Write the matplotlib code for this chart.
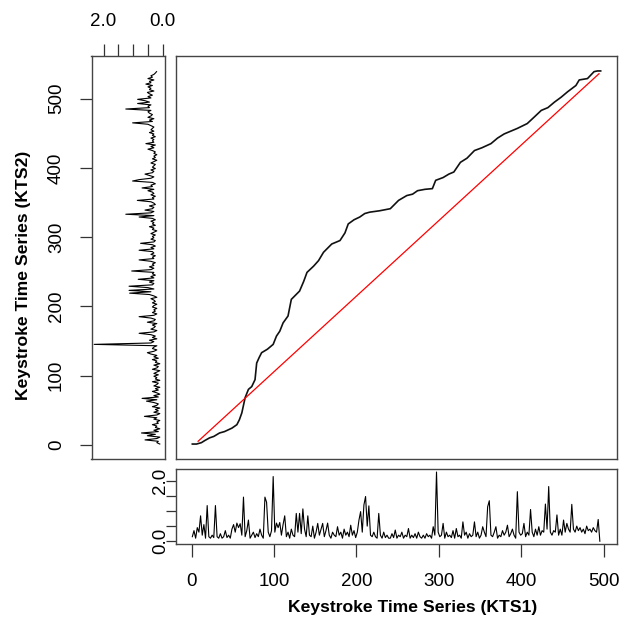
import matplotlib
matplotlib.use('Agg')
import matplotlib.pyplot as plt
import numpy as np

plt.rcParams['font.family'] = ['Liberation Sans', 'DejaVu Sans']

# KTS1 (query), sampled every 2nd keystroke: 1, 3, ..., 495
kts1 = [
    0.15, 0.35, 0.1, 0.45, 0.3, 0.84, 0.2, 0.55, 0.1, 1.18,
    0.15, 0.1, 0.2, 0.12, 1.18, 0.15, 0.1, 0.25, 0.1, 0.15,
    0.35, 0.12, 0.2, 0.1, 0.4, 0.55, 0.3, 0.6, 0.45, 0.58,
    0.2, 1.46, 0.15, 0.35, 0.7, 0.1, 0.2, 0.3, 0.12, 0.25,
    0.15, 0.4, 0.2, 0.1, 1.46, 1.29, 0.3, 0.15, 0.35, 2.14,
    0.3, 0.6, 0.45, 0.62, 0.2, 0.55, 0.84, 0.15, 0.3, 0.1,
    0.4, 0.2, 0.15, 0.92, 0.3, 0.92, 0.25, 1.07, 0.4, 0.15,
    0.84, 0.2, 0.15, 0.5, 0.1, 0.3, 0.59, 0.2, 0.4, 0.59,
    0.15, 0.35, 0.6, 0.2, 0.1, 0.3, 0.2, 0.15, 0.48, 0.2,
    0.3, 0.1, 0.4, 0.2, 0.3, 0.15, 0.53, 0.2, 0.35, 0.12,
    0.3, 0.7, 0.98, 0.3, 1.2, 1.48, 0.5, 1.17, 0.2, 0.15,
    0.3, 0.15, 0.1, 0.92, 0.2, 0.1, 0.3, 0.12, 0.2, 0.1,
    0.1, 0.25, 0.12, 0.37, 0.1, 0.2, 0.15, 0.3, 0.1, 0.2,
    0.15, 0.42, 0.1, 0.2, 0.12, 0.25, 0.1, 0.3, 0.15, 0.1,
    0.2, 0.1, 0.25, 0.15, 0.2, 0.1, 0.48, 0.2, 2.29, 0.3,
    0.15, 0.2, 0.59, 0.1, 0.3, 0.15, 0.2, 0.12, 0.35, 0.1,
    0.42, 0.15, 0.2, 0.1, 0.64, 0.2, 0.3, 0.1, 0.25, 0.15,
    0.2, 0.64, 0.15, 0.3, 0.1, 0.2, 0.48, 0.3, 0.15, 1.14,
    1.34, 0.2, 0.15, 0.3, 0.48, 0.1, 0.2, 0.15, 0.35, 0.2,
    0.3, 0.53, 0.15, 0.25, 0.4, 0.2, 0.1, 1.64, 0.3, 0.2,
    0.25, 0.59, 0.15, 0.3, 0.2, 1.05, 0.3, 0.15, 0.4, 0.2,
    0.48, 0.2, 0.35, 0.3, 1.23, 0.4, 1.81, 0.3, 0.2, 0.35,
    0.3, 0.87, 0.2, 0.4, 0.2, 0.7, 0.3, 0.59, 0.4, 0.3,
    1.22, 0.4, 0.3, 0.5, 0.35, 0.45, 0.3, 0.4, 0.25, 0.5,
    0.35, 0.4, 0.3, 0.45, 0.35, 0.3, 0.72, 0.0,
]

# KTS2 (reference), sampled every 2nd keystroke: 1, 3, ..., 539
kts2 = [
    0.1, 0.2, 0.15, 0.6, 0.2, 0.1, 0.52, 0.25, 0.72, 0.15,
    0.3, 0.1, 0.25, 0.2, 0.35, 0.15, 0.2, 0.1, 0.3, 0.2,
    0.62, 0.2, 0.1, 0.3, 0.15, 0.25, 0.1, 0.35, 0.2, 0.15,
    0.3, 0.55, 0.2, 0.7, 0.15, 0.3, 0.1, 0.2, 0.35, 0.15,
    0.25, 0.1, 0.3, 0.2, 0.15, 0.35, 0.1, 0.25, 0.2, 0.3,
    0.15, 0.3, 0.2, 0.1, 0.35, 0.2, 0.15, 0.3, 0.1, 0.25,
    0.2, 0.35, 0.15, 0.3, 0.2, 0.4, 0.52, 0.3, 0.2, 0.35,
    0.3, 0.2, 2.32, 0.4, 0.3, 0.45, 0.2, 0.35, 0.25, 0.4,
    0.8, 0.3, 0.2, 0.4, 0.3, 0.25, 0.35, 0.2, 0.52, 0.3,
    0.25, 0.4, 0.8, 0.3, 0.2, 0.35, 0.25, 0.3, 0.2, 0.35,
    0.3, 0.2, 0.35, 0.25, 0.3, 0.4, 0.2, 0.3, 0.45, 1.12,
    0.4, 1.14, 0.3, 0.5, 1.14, 0.35, 0.3, 0.45, 0.3, 0.83,
    0.3, 0.4, 0.25, 0.35, 0.3, 1.05, 0.4, 0.3, 0.45, 0.3,
    0.35, 0.25, 0.4, 0.8, 0.3, 0.35, 0.25, 0.4, 0.3, 0.35,
    0.8, 0.3, 0.4, 0.25, 0.35, 0.75, 0.3, 0.25, 0.4, 0.3,
    0.35, 0.25, 0.4, 0.3, 0.2, 0.35, 0.3, 0.45, 0.25, 0.35,
    0.3, 0.4, 0.25, 0.35, 0.8, 0.3, 1.25, 0.4, 0.3, 0.6,
    0.35, 0.3, 0.45, 0.25, 0.3, 0.4, 0.86, 0.3, 0.35, 0.25,
    0.4, 0.3, 0.35, 0.5, 0.3, 0.7, 0.35, 0.4, 0.25, 0.35,
    1.02, 0.8, 0.4, 0.3, 0.45, 0.6, 0.35, 0.3, 0.4, 0.25,
    0.35, 0.3, 0.25, 0.4, 0.3, 0.2, 0.35, 0.25, 0.3, 0.2,
    0.3, 0.25, 0.35, 0.5, 0.3, 0.4, 0.25, 0.57, 0.3, 0.35,
    0.3, 0.4, 0.25, 0.35, 0.3, 0.45, 0.3, 0.4, 0.35, 0.3,
    0.4, 0.5, 1.02, 0.35, 0.45, 0.3, 0.5, 0.4, 0.35, 0.45,
    0.5, 0.4, 1.25, 0.45, 0.5, 0.4, 0.85, 0.45, 0.6, 0.85,
    0.4, 0.5, 0.35, 0.45, 0.52, 0.3, 0.45, 0.4, 0.5, 0.35,
    0.57, 0.4, 0.45, 0.3, 0.5, 0.35, 0.4, 0.3, 0.25, 0.21,
]

# warping path (KTS1 index, KTS2 index)
path_i = [1, 6, 12, 16, 22, 27, 34, 40, 49, 55, 58, 61, 63, 65, 69, 73,
          77, 79, 82, 85, 92, 99, 103, 107, 111, 117, 121, 126, 131, 136,
          140, 148, 154, 160, 170, 180, 186, 190, 197, 204, 210, 216, 228,
          241, 246, 251, 261, 268, 274, 283, 292, 296, 305, 312, 318, 326,
          334, 343, 352, 363, 371, 379, 387, 395, 407, 416, 424, 432, 440,
          448, 456, 466, 470, 475, 480, 488, 492, 496]
path_j = [1, 1, 3, 6, 10, 12, 17, 19, 24, 29, 36, 46, 57, 68, 80, 84,
          94, 118, 126, 133, 138, 145, 157, 164, 176, 186, 210, 216, 222,
          236, 249, 258, 266, 278, 290, 295, 306, 319, 325, 329, 334, 336,
          338, 341, 347, 353, 360, 362, 367, 369, 370, 382, 386, 391, 394,
          408, 414, 425, 429, 435, 443, 449, 453, 457, 464, 474, 483, 487,
          495, 502, 510, 519, 527, 528, 529, 539, 540, 540]

diag_i = [8, 494]
diag_j = [5, 536]

idx1 = np.arange(1, 2 * len(kts1), 2)
idx2 = np.arange(1, 2 * len(kts2), 2)

W, H = 636, 624
fig = plt.figure(figsize=(W / 100, H / 100), dpi=100)


def box(l, t, r, b):
    return [l / W, 1 - b / H, (r - l) / W, (b - t) / H]


ax_main = fig.add_axes(box(176, 56, 617, 459))
ax_bot = fig.add_axes(box(176, 469, 617, 544))
ax_left = fig.add_axes(box(91.5, 56, 165.5, 459))

xlim = (-18.8, 515.8)
ylim = (-20.6, 561.6)

for ax in (ax_main, ax_bot, ax_left):
    for s in ax.spines.values():
        s.set_color('#444444')
        s.set_linewidth(1.0)
    ax.tick_params(length=9, width=0.9, color='#333333', labelsize=13.5,
                   pad=12)

# main panel: warping path + diagonal
ax_main.plot(path_i, path_j, color='#111111', lw=1.2)
ax_main.plot(diag_i, diag_j, color='red', lw=0.9)
ax_main.set_xlim(*xlim)
ax_main.set_ylim(*ylim)
ax_main.set_xticks([])
ax_main.set_yticks([])

# bottom panel: KTS1
ax_bot.plot(idx1, kts1, color='black', lw=0.8)
ax_bot.set_xlim(*xlim)
ax_bot.set_ylim(-0.092, 2.39)
ax_bot.set_xticks([0, 100, 200, 300, 400, 500])
ax_bot.set_yticks([0, 0.5, 1.0, 1.5, 2.0])
ax_bot.set_yticklabels(['0.0', '', '', '', '2.0'], rotation=90, va='center')
ax_bot.tick_params(axis='y', length=7, pad=-2)
ax_bot.set_xlabel('Keystroke Time Series (KTS1)', fontsize=12.6,
                  fontweight='bold', labelpad=7)
ax_bot.xaxis.label.set_x(0.537)

# left panel: KTS2, reversed horizontally
ax_left.plot(kts2, idx2, color='black', lw=0.8)
ax_left.set_ylim(*ylim)
ax_left.set_xlim(2.41, -0.093)
ax_left.xaxis.tick_top()
ax_left.set_xticks([0, 0.5, 1.0, 1.5, 2.0])
ax_left.set_xticklabels(['0.0', '', '', '', '2.0'])
ax_left.tick_params(axis='x', pad=10)
ax_left.set_yticks([0, 100, 200, 300, 400, 500])
ax_left.set_yticklabels(['0', '100', '200', '300', '400', '500'],
                        rotation=90, va='center')
ax_left.tick_params(axis='y', pad=10)
ax_left.set_ylabel('Keystroke Time Series (KTS2)', fontsize=12.6,
                   fontweight='bold', labelpad=12)
ax_left.yaxis.label.set_y(0.455)

fig.savefig('out.png', dpi=100)
print("Saved plot to out.png")
